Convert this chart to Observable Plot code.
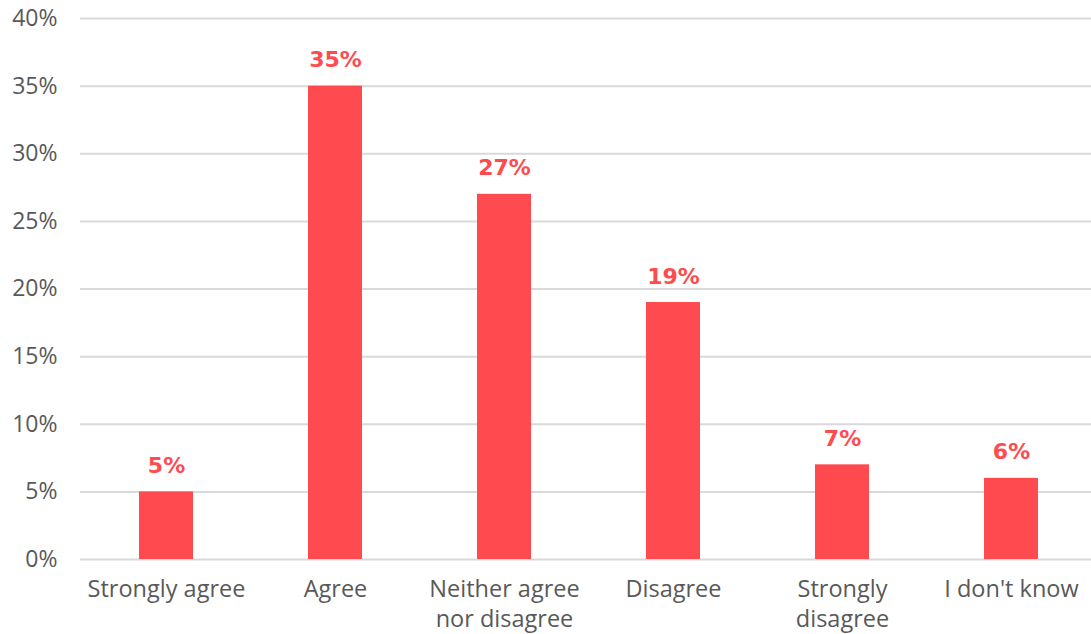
<!DOCTYPE html>
<html>
<head>
<meta charset="utf-8">
<script src="https://cdn.jsdelivr.net/npm/d3@7"></script>
<script src="https://cdn.jsdelivr.net/npm/@observablehq/plot@0.6"></script>
<style>
  html, body { margin: 0; padding: 0; background: #fff; }
  #chart svg { display: block; }
</style>
</head>
<body>
<div id="chart"></div>
<script>
const categories = ["Strongly agree", "Agree", "Neither agree\nnor disagree", "Disagree", "Strongly\ndisagree", "I don't know"];
const values = [5, 35, 27, 19, 7, 6];
const yTicks = [0, 5, 10, 15, 20, 25, 30, 35, 40];

const data = categories.map((c, i) => ({category: c, value: values[i]}));

const chart = Plot.plot({
  width: 1091,
  height: 634,
  marginLeft: 80,
  marginRight: 0,
  marginTop: 18,
  marginBottom: 75,
  style: {fontFamily: "'Open Sans', sans-serif", background: "#fff"},
  x: {domain: categories, range: [80, 1098], paddingInner: 0.68, paddingOuter: 0.34, label: null},
  y: {domain: [0, 40], label: null},
  marks: [
    Plot.ruleY(yTicks, {stroke: "#d9d9d9", strokeWidth: 2}),
    Plot.barY(data, {x: "category", y: "value", fill: "#ff4b4f"}),
    Plot.text(data, {x: "category", y: "value", text: d => d.value + "%", dy: -26, fill: "#ff4b4f", fontWeight: "bold", fontSize: 22, fontFamily: "'DejaVu Sans', sans-serif"}),
    Plot.axisY({ticks: yTicks, tickFormat: d => d + "%", tickSize: 0, tickPadding: 23, fontSize: 23, color: "#595959", label: null}),
    Plot.axisX({tickSize: 0, tickPadding: 17, fontSize: 23.5, color: "#595959", lineHeight: 1.25, label: null})
  ]
});
document.getElementById("chart").appendChild(chart);
</script>
</body>
</html>
